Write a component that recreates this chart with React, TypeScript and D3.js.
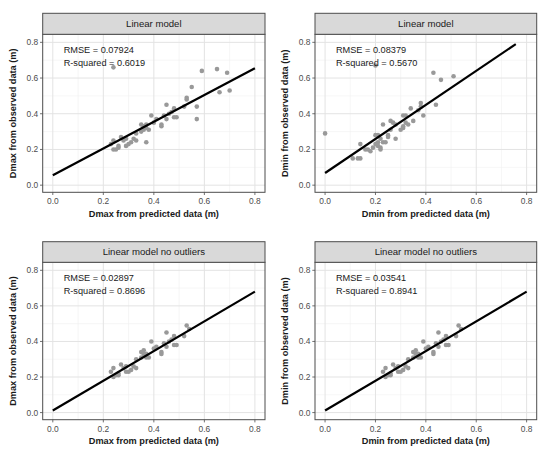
import React from "react";
import * as d3 from "d3";

// ---- data ----
const panelTitles = ["Linear model", "Linear model", "Linear model no outliers", "Linear model no outliers"];
const xTitles = ["Dmax from predicted data (m)", "Dmin from predicted data (m)", "Dmax from predicted data (m)", "Dmin from predicted data (m)"];
const yTitles = ["Dmax from observed data (m)", "Dmin from observed data (m)", "Dmax from observed data (m)", "Dmin from observed data (m)"];
const rmseLabels = ["RMSE = 0.07924", "RMSE = 0.08379", "RMSE = 0.02897", "RMSE = 0.03541"];
const r2Labels = ["R-squared = 0.6019", "R-squared = 0.5670", "R-squared = 0.8696", "R-squared = 0.8941"];
const tickValues = [0, 0.2, 0.4, 0.6, 0.8];
const tickLabels = ["0.0", "0.2", "0.4", "0.6", "0.8"];
const minorTicks = [0.1, 0.3, 0.5, 0.7];

// fitted line endpoints [x0, y0, x1, y1]
const fitLines = [
  [0.0, 0.055, 0.8, 0.655],
  [0.0, 0.068, 0.757, 0.79],
  [0.0, 0.012, 0.8, 0.68],
  [0.0, 0.012, 0.8, 0.68],
];

const dmaxPred = [0.24, 0.59, 0.65, 0.69, 0.70, 0.66, 0.55, 0.57, 0.57, 0.53, 0.53, 0.52, 0.45, 0.48, 0.48, 0.49, 0.45, 0.44, 0.43, 0.43, 0.41, 0.39, 0.40, 0.37, 0.36, 0.37, 0.35, 0.35, 0.36, 0.33, 0.32, 0.33, 0.29, 0.30, 0.29, 0.28, 0.27, 0.26, 0.24, 0.24, 0.25, 0.23, 0.26, 0.31, 0.46, 0.47, 0.38, 0.37];
const dmaxObs = [0.66, 0.64, 0.65, 0.63, 0.53, 0.52, 0.55, 0.44, 0.37, 0.49, 0.48, 0.44, 0.45, 0.43, 0.38, 0.38, 0.37, 0.39, 0.33, 0.34, 0.37, 0.39, 0.35, 0.34, 0.31, 0.24, 0.34, 0.30, 0.33, 0.29, 0.26, 0.25, 0.26, 0.23, 0.22, 0.25, 0.27, 0.21, 0.25, 0.20, 0.20, 0.23, 0.22, 0.24, 0.40, 0.41, 0.31, 0.32];

const dminPred = [0.00, 0.20, 0.43, 0.46, 0.51, 0.44, 0.39, 0.38, 0.38, 0.34, 0.35, 0.32, 0.31, 0.32, 0.31, 0.31, 0.28, 0.26, 0.27, 0.28, 0.23, 0.25, 0.25, 0.21, 0.20, 0.22, 0.20, 0.21, 0.23, 0.24, 0.19, 0.22, 0.18, 0.16, 0.14, 0.14, 0.13, 0.11, 0.17, 0.21, 0.22, 0.26, 0.30, 0.33, 0.37];
const dminObs = [0.29, 0.67, 0.63, 0.59, 0.61, 0.45, 0.39, 0.46, 0.44, 0.43, 0.36, 0.39, 0.39, 0.35, 0.32, 0.33, 0.34, 0.36, 0.35, 0.26, 0.34, 0.28, 0.27, 0.28, 0.28, 0.26, 0.23, 0.24, 0.24, 0.24, 0.21, 0.20, 0.19, 0.20, 0.23, 0.15, 0.15, 0.15, 0.20, 0.22, 0.21, 0.31, 0.31, 0.34, 0.42];

const dmaxPredClean = [0.53, 0.54, 0.52, 0.45, 0.48, 0.48, 0.49, 0.45, 0.44, 0.43, 0.43, 0.41, 0.39, 0.40, 0.37, 0.37, 0.35, 0.35, 0.36, 0.33, 0.32, 0.33, 0.29, 0.30, 0.29, 0.28, 0.27, 0.26, 0.24, 0.24, 0.25, 0.23, 0.26, 0.31, 0.46, 0.47, 0.38, 0.37, 0.36];
const dmaxObsClean = [0.49, 0.47, 0.43, 0.45, 0.43, 0.38, 0.38, 0.37, 0.39, 0.33, 0.34, 0.37, 0.40, 0.36, 0.33, 0.31, 0.34, 0.31, 0.33, 0.30, 0.26, 0.25, 0.26, 0.23, 0.23, 0.25, 0.27, 0.22, 0.25, 0.20, 0.21, 0.23, 0.21, 0.24, 0.40, 0.41, 0.31, 0.32, 0.35];

const dminPredClean = [0.53, 0.54, 0.52, 0.45, 0.48, 0.48, 0.49, 0.45, 0.44, 0.43, 0.43, 0.41, 0.39, 0.40, 0.37, 0.37, 0.35, 0.35, 0.36, 0.33, 0.32, 0.33, 0.29, 0.30, 0.29, 0.28, 0.27, 0.26, 0.24, 0.24, 0.25, 0.23, 0.26, 0.31, 0.46, 0.47, 0.38, 0.37, 0.36];
const dminObsClean = [0.49, 0.47, 0.43, 0.45, 0.43, 0.38, 0.38, 0.37, 0.39, 0.33, 0.34, 0.37, 0.40, 0.36, 0.33, 0.31, 0.34, 0.31, 0.33, 0.30, 0.26, 0.25, 0.26, 0.23, 0.23, 0.25, 0.27, 0.22, 0.25, 0.20, 0.21, 0.23, 0.21, 0.24, 0.40, 0.41, 0.31, 0.32, 0.35];

const panelX = [dmaxPred, dminPred, dmaxPredClean, dminPredClean];
const panelY = [dmaxObs, dminObs, dmaxObsClean, dminObsClean];

// ---- layout ----
const W = 550;
const H = 459;
const colLeft = [42.7, 315];
const colRight = [265, 536.7];
const rowStripTop = [13.3, 241.7];
const rowTop = [34.3, 262.3];
const rowBottom = [192.3, 419.7];
const FONT = "Liberation Sans, Arial, Helvetica, sans-serif";

function Panel({ i }: { i: number }) {
  const col = i % 2;
  const row = Math.floor(i / 2);
  const left = colLeft[col];
  const right = colRight[col];
  const top = rowTop[row];
  const bottom = rowBottom[row];
  const stripTop = rowStripTop[row];
  const x = d3.scaleLinear().domain([-0.04, 0.84]).range([left, right]);
  const y = d3.scaleLinear().domain([-0.04, 0.845]).range([bottom, top]);
  const xs = panelX[i];
  const ys = panelY[i];
  const fl = fitLines[i];
  const cx = (left + right) / 2;
  const cy = (top + bottom) / 2;
  return (
    <g>
      <rect x={left} y={top} width={right - left} height={bottom - top} fill="#ffffff" />
      {minorTicks.map((t) => (
        <g key={"mn" + t}>
          <line x1={x(t)} x2={x(t)} y1={top} y2={bottom} stroke="#f0f0f0" strokeWidth={0.6} />
          <line x1={left} x2={right} y1={y(t)} y2={y(t)} stroke="#f0f0f0" strokeWidth={0.6} />
        </g>
      ))}
      {tickValues.map((t) => (
        <g key={"mj" + t}>
          <line x1={x(t)} x2={x(t)} y1={top} y2={bottom} stroke="#e3e3e3" strokeWidth={1} />
          <line x1={left} x2={right} y1={y(t)} y2={y(t)} stroke="#e3e3e3" strokeWidth={1} />
        </g>
      ))}
      {xs.map((v, k) => (
        <circle key={k} cx={x(v)} cy={y(ys[k])} r={2.3} fill="#999999" />
      ))}
      <line
        x1={x(fl[0])}
        y1={y(fl[1])}
        x2={x(fl[2])}
        y2={y(fl[3])}
        stroke="#000000"
        strokeWidth={2.2}
      />
      <text x={x(0.043)} y={y(0.76)} dy="0.35em" fontSize={9.2} fill="#1a1a1a" fontFamily={FONT}>
        {rmseLabels[i]}
      </text>
      <text x={x(0.043)} y={y(0.686)} dy="0.35em" fontSize={9.2} fill="#1a1a1a" fontFamily={FONT}>
        {r2Labels[i]}
      </text>
      <rect x={left} y={top} width={right - left} height={bottom - top} fill="none" stroke="#4d4d4d" strokeWidth={1} />
      <rect x={left} y={stripTop} width={right - left} height={top - stripTop} fill="#d9d9d9" stroke="#4d4d4d" strokeWidth={1} />
      <text x={cx} y={(stripTop + top) / 2} dy="0.35em" textAnchor="middle" fontSize={9.6} fill="#1a1a1a" fontFamily={FONT}>
        {panelTitles[i]}
      </text>
      {tickValues.map((t, k) => (
        <g key={"tk" + t}>
          <line x1={x(t)} x2={x(t)} y1={bottom} y2={bottom + 2.7} stroke="#4d4d4d" strokeWidth={0.8} />
          <text x={x(t)} y={bottom + 9} dy="0.35em" textAnchor="middle" fontSize={8.4} fill="#4d4d4d" fontFamily={FONT}>
            {tickLabels[k]}
          </text>
          <line x1={left - 2.7} x2={left} y1={y(t)} y2={y(t)} stroke="#4d4d4d" strokeWidth={0.8} />
          <text x={left - 4.5} y={y(t)} dy="0.35em" textAnchor="end" fontSize={8.4} fill="#4d4d4d" fontFamily={FONT}>
            {tickLabels[k]}
          </text>
        </g>
      ))}
      <text x={cx} y={bottom + 21} dy="0.35em" textAnchor="middle" fontSize={9.2} fontWeight="bold" fill="#1a1a1a" fontFamily={FONT}>
        {xTitles[i]}
      </text>
      <text
        transform={`translate(${left - 30},${cy}) rotate(-90)`}
        dy="0.35em"
        textAnchor="middle"
        fontSize={9.2}
        fontWeight="bold"
        fill="#1a1a1a"
        fontFamily={FONT}
      >
        {yTitles[i]}
      </text>
    </g>
  );
}

export default function App() {
  return (
    <svg width={W} height={H} style={{ display: "block", position: "absolute", left: 0, top: 0 }}>
      <rect width={W} height={H} fill="#ffffff" />
      {[0, 1, 2, 3].map((i) => (
        <Panel key={i} i={i} />
      ))}
    </svg>
  );
}
